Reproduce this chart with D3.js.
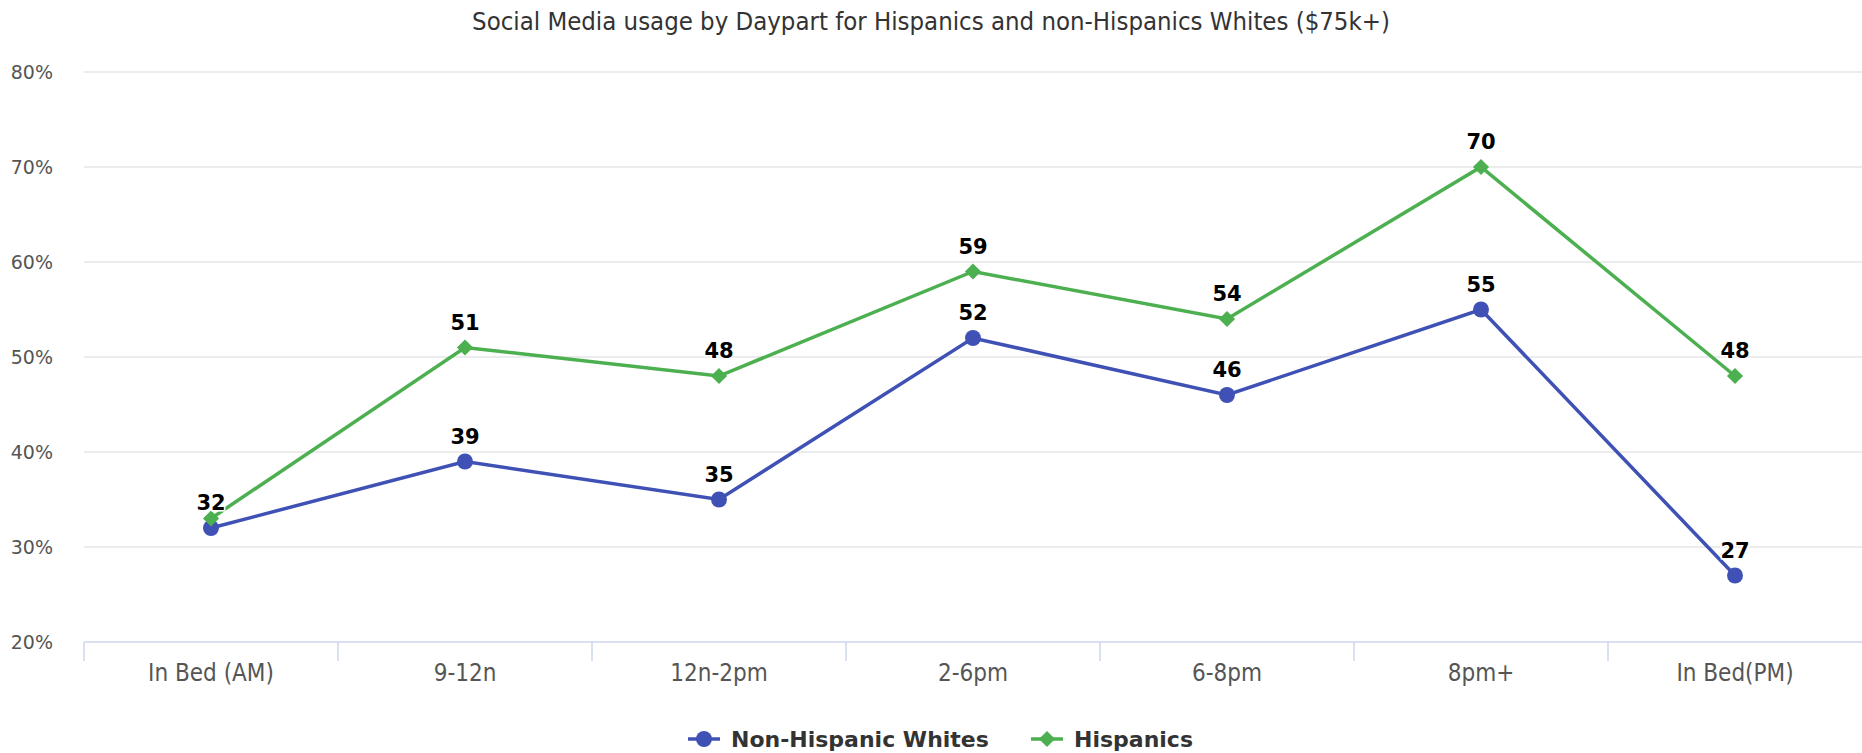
<!DOCTYPE html>
<html>
<head>
<meta charset="utf-8">
<script src="https://cdn.jsdelivr.net/npm/d3@7"></script>
<style>
  body { margin: 0; background: #fff; }
  svg { display: block; }
</style>
</head>
<body>
<svg id="chart" width="1862" height="753"></svg>
<script>
var categories = ["In Bed (AM)", "9-12n", "12n-2pm", "2-6pm", "6-8pm", "8pm+", "In Bed(PM)"];
var nonHispanicWhites = [32, 39, 35, 52, 46, 55, 27];
var hispanics = [33, 51, 48, 59, 54, 70, 48];
// first Hispanics label is hidden in the original (overlaps the 32)
var hispanicsShowLabel = [false, true, true, true, true, true, true];
var yTicks = [20, 30, 40, 50, 60, 70, 80];

var svg = d3.select("#chart"),
    margin = {top: 72, right: 0, bottom: 111, left: 84},
    width = +svg.attr("width") - margin.left - margin.right,
    height = +svg.attr("height") - margin.top - margin.bottom,
    g = svg.append("g").attr("transform", "translate(" + margin.left + "," + margin.top + ")");

var narrow = "'Liberation Sans Narrow', 'DejaVu Sans Condensed', sans-serif";

var x = d3.scaleBand()
    .domain(categories)
    .range([0, width]);

var y = d3.scaleLinear()
    .domain([20, 80])
    .range([height, 0]);

function cx(i) { return x(categories[i]) + x.bandwidth() / 2; }

svg.append("text")
    .attr("x", 931)
    .attr("y", 30)
    .attr("text-anchor", "middle")
    .attr("fill", "#333")
    .style("font-family", narrow)
    .style("font-size", "25.5px")
    .text("Social Media usage by Daypart for Hispanics and non-Hispanics Whites ($75k+)");

// grid
g.selectAll(".grid")
    .data(yTicks.slice(1))
    .enter().append("line")
      .attr("x1", 0)
      .attr("x2", width)
      .attr("y1", function(d) { return y(d); })
      .attr("y2", function(d) { return y(d); })
      .attr("stroke", "#e6e6e6")
      .attr("stroke-width", 1.5);

var yAxis = g.append("g")
    .call(d3.axisLeft(y).tickValues(yTicks).tickSize(0).tickPadding(31)
      .tickFormat(function(d) { return d + "%"; }));
yAxis.select(".domain").remove();
yAxis.selectAll("text")
    .attr("fill", "#555")
    .style("font-family", "'DejaVu Sans', sans-serif")
    .style("font-size", "19px");

// x axis with tick marks on band edges
var xAxis = g.append("g")
    .attr("transform", "translate(0," + height + ")");
xAxis.append("line")
    .attr("x1", 0).attr("x2", width)
    .attr("stroke", "#ccd6eb").attr("stroke-width", 1.5);
xAxis.selectAll(".tickmark")
    .data(categories)
    .enter().append("line")
      .attr("x1", function(d) { return x(d); })
      .attr("x2", function(d) { return x(d); })
      .attr("y1", 0).attr("y2", 19)
      .attr("stroke", "#ccd6eb").attr("stroke-width", 1.5);
xAxis.selectAll(".label")
    .data(categories)
    .enter().append("text")
      .attr("x", function(d) { return x(d) + x.bandwidth() / 2; })
      .attr("y", 39)
      .attr("text-anchor", "middle")
      .attr("fill", "#555")
      .style("font-family", narrow)
      .style("font-size", "24px")
      .text(function(d) { return d; });

var line = d3.line()
    .x(function(d, i) { return cx(i); })
    .y(function(d) { return y(d); });

var diamond = { draw: function(ctx, size) {
  var r = Math.sqrt(size) / 2;
  ctx.moveTo(0, -r); ctx.lineTo(r, 0); ctx.lineTo(0, r); ctx.lineTo(-r, 0); ctx.closePath();
} };

var series = [
  {name: "Non-Hispanic Whites", values: nonHispanicWhites, color: "#3f51b5", symbol: d3.symbolCircle, size: 200, show: categories.map(function() { return true; })},
  {name: "Hispanics", values: hispanics, color: "#4caf50", symbol: diamond, size: 260, show: hispanicsShowLabel}
];

series.forEach(function(s) {
  g.append("path")
      .datum(s.values)
      .attr("fill", "none")
      .attr("stroke", s.color)
      .attr("stroke-width", 3.5)
      .attr("d", line);

  g.selectAll(null)
      .data(s.values)
      .enter().append("path")
        .attr("transform", function(d, i) { return "translate(" + cx(i) + "," + y(d) + ")"; })
        .attr("d", d3.symbol().type(s.symbol).size(s.size))
        .attr("fill", s.color);
});

series.forEach(function(s) {
  var pts = s.values.map(function(v, i) { return {v: v, i: i}; })
      .filter(function(p) { return s.show[p.i]; });
  g.selectAll(null)
      .data(pts)
      .enter().append("text")
        .attr("x", function(p) { return cx(p.i); })
        .attr("y", function(p) { return y(p.v) - 18; })
        .attr("text-anchor", "middle")
        .attr("fill", "#000")
        .attr("stroke", "#fff")
        .attr("stroke-width", 3)
        .attr("paint-order", "stroke")
        .style("font-family", "'DejaVu Sans', sans-serif")
        .style("font-weight", "bold")
        .style("font-size", "21px")
        .text(function(p) { return p.v; });
});

// legend
var legend = svg.append("g").attr("transform", "translate(0,739)");
var legendX = [688, 1031];
series.forEach(function(s, i) {
  var lg = legend.append("g").attr("transform", "translate(" + legendX[i] + ",0)");
  lg.append("line")
      .attr("x1", 0).attr("x2", 32)
      .attr("stroke", s.color).attr("stroke-width", 3.5);
  lg.append("path")
      .attr("transform", "translate(16,0)")
      .attr("d", d3.symbol().type(s.symbol).size(s.size))
      .attr("fill", s.color);
  lg.append("text")
      .attr("x", 43)
      .attr("y", 8)
      .attr("fill", "#333")
      .style("font-family", "'DejaVu Sans', sans-serif")
      .style("font-weight", "bold")
      .style("font-size", "22px")
      .text(s.name);
});
</script>
</body>
</html>
